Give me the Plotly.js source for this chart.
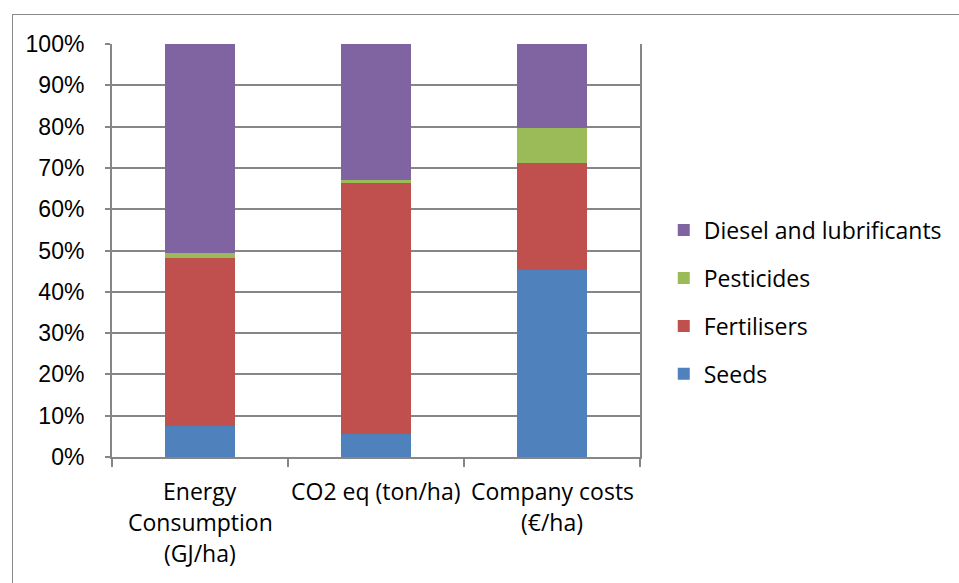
<!DOCTYPE html>
<html>
<head>
<meta charset="utf-8">
<script src="https://cdn.plot.ly/plotly-3.0.1.min.js"></script>
<style>
html,body{margin:0;padding:0;background:#fff;}
#frame{position:absolute;left:12px;top:14px;width:960px;height:600px;border-left:1px solid #8a8a8a;border-top:1px solid #8a8a8a;}
#chart{position:absolute;left:0;top:0;width:959px;height:583px;}
</style>
</head>
<body>
<div id="frame"></div>
<div id="chart"></div>
<script>
const categories = ["Energy Consumption (GJ/ha)", "CO2 eq (ton/ha)", "Company costs (€/ha)"];
const categoryLines = [["Energy", "Consumption", "(GJ/ha)"], ["CO2 eq (ton/ha)"], ["Company costs", "(€/ha)"]];
const seeds = [7.5, 5.5, 45.2];
const fertilisers = [40.8, 60.8, 26.1];
const pesticides = [1.0, 0.7, 8.4];
const diesel = [50.7, 33.0, 20.3];
const yTickVals = [0, 10, 20, 30, 40, 50, 60, 70, 80, 90, 100];
const yTickText = ["0%", "10%", "20%", "30%", "40%", "50%", "60%", "70%", "80%", "90%", "100%"];

const series = [
  {name: "Seeds", y: seeds, color: "#4F81BD", rank: 4},
  {name: "Fertilisers", y: fertilisers, color: "#C0504D", rank: 3},
  {name: "Pesticides", y: pesticides, color: "#9BBB59", rank: 2},
  {name: "Diesel and lubrificants", y: diesel, color: "#8064A2", rank: 1}
];

const traces = series.map(s => ({
  type: "bar",
  name: s.name,
  x: categories,
  y: s.y,
  legendgroup: s.name,
  legendrank: s.rank,
  marker: {color: s.color, line: {width: 0}},
  hoverinfo: "name+y"
}));

const labelFont = {family: "'Open Sans', Lato, sans-serif", size: 23, color: "#000"};

const annotations = [];
categoryLines.forEach((lines, i) => {
  lines.forEach((t, j) => {
    annotations.push({
      x: categories[i], xref: "x", y: 0, yref: "paper",
      yanchor: "middle", xanchor: "center",
      yshift: -34 - 31 * j,
      text: t, showarrow: false,
      font: labelFont
    });
  });
});

const layout = {
  width: 959, height: 583,
  margin: {l: 112, r: 319, t: 44, b: 126},
  paper_bgcolor: "rgba(0,0,0,0)",
  plot_bgcolor: "rgba(0,0,0,0)",
  barmode: "stack",
  bargap: 0.6,
  showlegend: true,
  legend: {
    x: 1.045, xanchor: "left", y: 0.375, yanchor: "middle",
    traceorder: "grouped",
    tracegroupgap: 15,
    font: labelFont,
    itemwidth: 30
  },
  xaxis: {
    type: "category",
    tickson: "boundaries",
    ticks: "outside", ticklen: 8, tickcolor: "#868686", tickwidth: 2,
    showticklabels: false,
    showline: true, linecolor: "#868686", linewidth: 2,
    showgrid: false, zeroline: false,
    range: [-0.5, 2.5]
  },
  yaxis: {
    range: [0, 100],
    tickvals: yTickVals, ticktext: yTickText,
    ticks: "outside", ticklen: 5, tickcolor: "#868686", tickwidth: 2,
    showline: true, linecolor: "#868686", linewidth: 2, mirror: true,
    showgrid: true, gridcolor: "#868686", gridwidth: 2,
    zeroline: false,
    ticklabelstandoff: 16,
    tickfont: {family: "'Liberation Sans', Arial, sans-serif", size: 23, color: "#000"}
  },
  annotations: annotations
};

Plotly.newPlot("chart", traces, layout, {displayModeBar: false, staticPlot: true});
</script>
</body>
</html>
